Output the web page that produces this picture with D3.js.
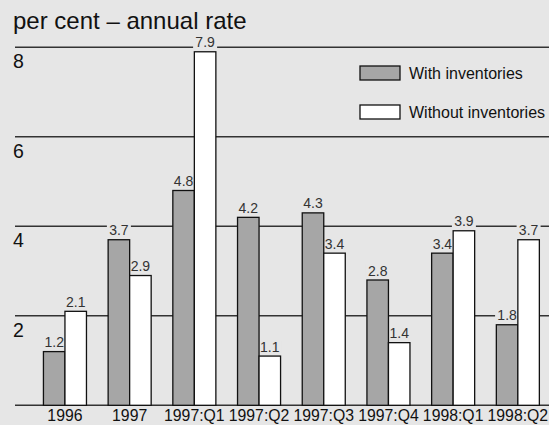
<!DOCTYPE html>
<html>
<head>
<meta charset="utf-8">
<script src="https://cdn.jsdelivr.net/npm/d3@7"></script>
<style>
  body { margin: 0; background: #e6e6e6; }
  svg { display: block; font-family: "Liberation Sans", Arial, sans-serif; }
</style>
</head>
<body>
<svg width="549" height="425"></svg>
<script>
// chart data
const categories = ['1996', '1997', '1997:Q1', '1997:Q2', '1997:Q3', '1997:Q4', '1998:Q1', '1998:Q2'];
const withInventories = [1.2, 3.7, 4.8, 4.2, 4.3, 2.8, 3.4, 1.8];
const withoutInventories = [2.1, 2.9, 7.9, 1.1, 3.4, 1.4, 3.9, 3.7];
const seriesNames = ['With inventories', 'Without inventories'];
const yTicks = [2, 4, 6, 8];

const width = 549, height = 425;
const bg = '#e6e6e6';
const colors = ['#a6a6a6', '#ffffff'];

const svg = d3.select('svg');
svg.append('rect').attr('width', width).attr('height', height).attr('fill', bg);

const yScale = d3.scaleLinear().domain([0, 8]).range([405.3, 47.3]);
const xScale = d3.scaleBand()
    .domain(categories)
    .range([32.6, 550.2])
    .paddingInner(0.335)
    .paddingOuter(0.1675);
const xSub = d3.scaleBand().domain([0, 1]).range([0, xScale.bandwidth()]);

const series = [withInventories, withoutInventories];
const flat = [];
categories.forEach((c, i) => series.forEach((s, j) => flat.push({ c: c, j: j, v: s[i] })));
const barX = d => xScale(d.c) + xSub(d.j);
const labelX = d => barX(d) + xSub.bandwidth() / 2;
const labelY = d => yScale(d.v) - 4.5;

// title
svg.append('text')
    .attr('x', 13).attr('y', 29)
    .attr('font-size', 24).attr('fill', '#111')
    .text('per cent – annual rate');

// grid lines + baseline
svg.append('g')
    .selectAll('line')
    .data([0].concat(yTicks))
    .join('line')
    .attr('x1', 15).attr('x2', width)
    .attr('y1', d => yScale(d)).attr('y2', d => yScale(d))
    .attr('stroke', '#333').attr('stroke-width', 1.5);

// y tick labels under each line
svg.append('g')
    .selectAll('text')
    .data(yTicks)
    .join('text')
    .attr('x', 13)
    .attr('y', d => yScale(d) + 21)
    .attr('font-size', 19.5).attr('fill', '#111')
    .text(d => d);

// label backgrounds (break the grid lines, sit under the bars)
svg.append('g')
    .selectAll('rect')
    .data(flat)
    .join('rect')
    .attr('x', d => labelX(d) - 12).attr('y', d => labelY(d) - 11)
    .attr('width', 24).attr('height', 12)
    .attr('fill', bg);

// bars
svg.append('g')
    .selectAll('rect')
    .data(flat)
    .join('rect')
    .attr('x', barX)
    .attr('y', d => yScale(d.v))
    .attr('width', xSub.bandwidth())
    .attr('height', d => yScale(0) - yScale(d.v))
    .attr('fill', d => colors[d.j])
    .attr('stroke', '#111').attr('stroke-width', 1.3);

// value labels
svg.append('g')
    .selectAll('text')
    .data(flat)
    .join('text')
    .attr('x', labelX).attr('y', labelY)
    .attr('text-anchor', 'middle')
    .attr('font-size', 14).attr('fill', '#333')
    .text(d => d.v.toFixed(1));

// category labels
svg.append('g')
    .selectAll('text')
    .data(categories)
    .join('text')
    .attr('x', d => xScale(d) + xScale.bandwidth() / 2)
    .attr('y', 421)
    .attr('text-anchor', 'middle')
    .attr('font-size', 15.8).attr('fill', '#111')
    .text(d => d);

// legend
const legend = svg.append('g')
    .selectAll('g')
    .data(seriesNames)
    .join('g')
    .attr('transform', (d, i) => `translate(360,${66 + i * 39})`);
legend.append('rect')
    .attr('width', 40).attr('height', 14)
    .attr('fill', (d, i) => colors[i])
    .attr('stroke', '#111').attr('stroke-width', 1.3);
legend.append('text')
    .attr('x', 49).attr('y', 13)
    .attr('font-size', 16).attr('fill', '#111')
    .text(d => d);
</script>
</body>
</html>
